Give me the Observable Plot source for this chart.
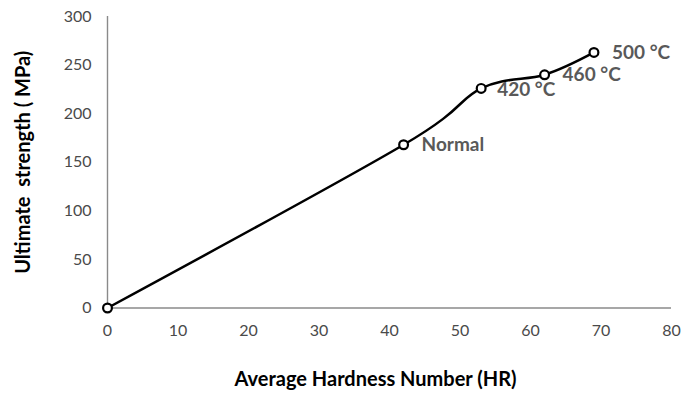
<!DOCTYPE html>
<html>
<head>
<meta charset="utf-8">
<script src="https://cdn.jsdelivr.net/npm/d3@7"></script>
<script src="https://cdn.jsdelivr.net/npm/@observablehq/plot@0.6"></script>
<style>
  html, body { margin: 0; padding: 0; background: #fff; }
  svg text { white-space: pre; }
</style>
</head>
<body>
<div id="chart"></div>
<script>
const hardness = [0, 42, 53, 62, 69];
const strength = [0, 168, 226, 240, 263];
const pointLabels = ["", "Normal", "420 °C", "460 °C", "500 °C"];
const xTicks = [0, 10, 20, 30, 40, 50, 60, 70, 80];
const yTicks = [0, 50, 100, 150, 200, 250, 300];
const xTitle = "Average Hardness Number (HR)";
const yTitle = "Ultimate  strength ( MPa)";

const data = hardness.map((h, i) => ({x: h, y: strength[i], label: pointLabels[i]}));

const chart = Plot.plot({
  width: 682,
  height: 396,
  marginLeft: 107,
  marginRight: 11,
  marginTop: 16,
  marginBottom: 88.5,
  style: {fontFamily: "Lato, sans-serif", background: "#fff"},
  x: {domain: [0, 80], ticks: xTicks},
  y: {domain: [0, 300], ticks: yTicks},
  marks: [
    Plot.axisX({ticks: xTicks, tickSize: 0, tickPadding: 17, fontSize: 16, color: "#4a4a4a", label: null}),
    Plot.axisY({ticks: yTicks, tickSize: 0, tickPadding: 16, fontSize: 16, color: "#4a4a4a", label: null}),
    Plot.ruleY([0], {stroke: "#8a8a8a", strokeWidth: 1.4}),
    Plot.ruleX([0], {stroke: "#8a8a8a", strokeWidth: 1.4}),
    Plot.line(data, {x: "x", y: "y", curve: "cardinal", stroke: "#000", strokeWidth: 2.5}),
    Plot.dot(data, {x: "x", y: "y", r: 4.4, stroke: "#000", strokeWidth: 2.2, fill: "#fff"}),
    Plot.text(data.filter(d => d.label && d.label !== "420 °C"), {x: "x", y: "y", text: "label", textAnchor: "start", dx: 18, fontSize: 19, fontWeight: "bold", fill: "#595959"}),
    Plot.text(data.filter(d => d.label === "420 °C"), {x: "x", y: "y", text: "label", textAnchor: "start", dx: 16, dy: 2, fontSize: 19, fontWeight: "bold", fill: "#595959"}),
    Plot.text([xTitle], {frameAnchor: "bottom", dx: -14, dy: 78, fontSize: 20, fontWeight: "bold", fill: "#000"}),
    Plot.text([yTitle], {frameAnchor: "left", textAnchor: "middle", dx: -84, rotate: -90, fontSize: 20, fontWeight: "bold", fill: "#000"})
  ]
});
document.getElementById("chart").appendChild(chart);
</script>
</body>
</html>
